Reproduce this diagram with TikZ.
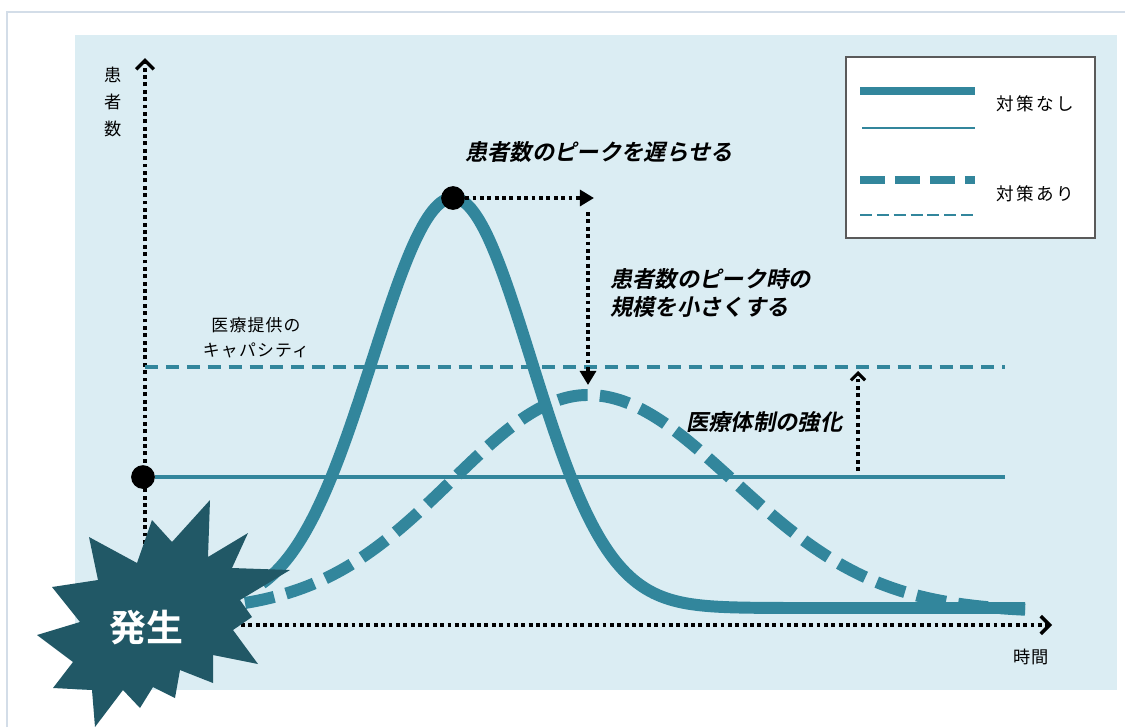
\documentclass[tikz,border=0pt]{standalone}
\usepackage{fontspec}
\newfontfamily\jp{Noto Sans CJK JP}
\newfontfamily\jpls[LetterSpace=14]{Noto Sans CJK JP}
\newfontfamily\jpcap[LetterSpace=7]{Noto Sans CJK JP}
\newfontfamily\jpb{Noto Sans CJK JP Bold}
\newfontfamily\jpbi[FakeSlant=0.2]{Noto Sans CJK JP Bold}
\usetikzlibrary{arrows.meta,positioning}

\definecolor{curvecol}{HTML}{32869C}
\definecolor{bgcol}{HTML}{DBEDF3}
\definecolor{burstcol}{HTML}{215866}
\definecolor{framecol}{HTML}{D3DDE8}
\definecolor{boxcol}{HTML}{5A5A5A}

\begin{document}
\begin{tikzpicture}[x=0.02cm,y=-0.02cm,
    axisline/.style={line width=2.2pt,dash pattern=on 2.2pt off 2pt,-{Straight Barb[length=5pt,width=10pt,line width=2pt]}},
    guide/.style={line width=2.2pt,dash pattern=on 2.2pt off 2pt,-{Triangle[length=8pt,width=9pt]}},
    guideup/.style={line width=2.2pt,dash pattern=on 2.2pt off 2pt,-{Straight Barb[length=4pt,width=8pt,line width=1.8pt]}},
    dot/.style={circle,fill=black,inner sep=0pt,minimum size=13.5pt},
    capline/.style={curvecol,line width=2.3pt,dash pattern=on 7.4pt off 4.5pt},
    baseline/.style={curvecol,line width=2.3pt},
    nocurve/.style={curvecol,line width=6.8pt},
    yescurve/.style={curvecol,line width=6.8pt,dash pattern=on 17pt off 7pt},
    note/.style={font=\jpbi\fontsize{12.7}{16}\selectfont,align=left,inner sep=0pt},
    plain/.style={font=\jp\fontsize{9.6}{14}\selectfont,align=center,inner sep=0pt}]
  \useasboundingbox (0,0) rectangle (1125,727);
  % frame and panel
  \draw[framecol,line width=0.8pt] (7,727) -- (7,12) -- (1125,12);
  \fill[bgcol] (75,35) rectangle (1117,690);

  % axes
  \coordinate (O) at (145,625);
  \coordinate (ytop) at (145,58);
  \coordinate (xend) at (1052,625);
  \draw[axisline] (O) -- (ytop);
  \draw[axisline] (O) -- (xend);
  \node[plain,font=\jp\fontsize{9.8}{15.3}\selectfont] (ylab) at (113,102) {患\\者\\数};
  \node[plain,font=\jp\fontsize{9.8}{14}\selectfont] (xlab) at (1031,657) {時間};

  % capacity lines
  \node[dot] (now) at (143,477) {};
  \coordinate (nowend) at (1005,477);
  \coordinate (capstart) at (145,367);
  \coordinate (capend) at (1005,367);
  \draw[baseline] (now) -- (nowend);
  \draw[capline] (capstart) -- (capend);
  \node[plain,font=\jpcap\fontsize{9.6}{14.2}\selectfont] (caplab) at (256,338) {医療提供の\\キャパシティ};

  % curves
  \draw[yescurve] plot[domain=245:1025,samples=160,smooth]
    (\x,{612-217*exp(-(((\x-588)/((\x<588)?136:145))^2)/2)});
  \draw[nocurve] plot[domain=262:1025,samples=180,smooth]
    (\x,{608-410*exp(-(((\x-453)/((\x<453)?80.5:78))^2)/2)});

  % peak shift
  \node[dot] (peak) at (453,198) {};
  \coordinate (delay) at (594,198);
  \coordinate (dropstart) at (588,212);
  \coordinate (lowpeak) at (588,385);
  \draw[guide] (peak) -- (delay);
  \draw[guide] (dropstart) -- (lowpeak);
  \coordinate (raisestart) at (858,471);
  \coordinate (raiseend) at (858,371);
  \draw[guideup] (raisestart) -- (raiseend);

  \node[note,anchor=west] (delaylab) at (465,152) {患者数のピークを遅らせる};
  \node[note,anchor=west] (shrinklab) at (610,293) {患者数のピーク時の\\規模を小さくする};
  \node[note,anchor=west] (carelab) at (686,422) {医療体制の強化};

  % legend
  \node[draw=boxcol,fill=white,line width=1pt,minimum width=249*0.02cm,minimum height=181*0.02cm,inner sep=0pt] (legend) at (970.5,147.5) {};
  \draw[curvecol,line width=4.5pt] (860,91) -- (975,91);
  \draw[curvecol,line width=1.7pt] (862,128) -- (975,128);
  \draw[curvecol,line width=4.5pt,dash pattern=on 14.2pt off 5.7pt] (860,180) -- (975,180);
  \draw[curvecol,line width=1.7pt,dash pattern=on 6.8pt off 2.8pt] (860,215) -- (975,215);
  \node[plain,font=\jpls\fontsize{10}{12}\selectfont,anchor=west] (nolab) at (996,104) {対策なし};
  \node[plain,font=\jpls\fontsize{10}{12}\selectfont,anchor=west] (yeslab) at (996,194) {対策あり};

  % outbreak burst
  \fill[burstcol] (210,500) -- (208,557) -- (248,533) -- (232,568) -- (290,570)
    -- (240,600) -- (252,617) -- (233,630) -- (258,664) -- (213,655)
    -- (213,683) -- (180,670) -- (175,698) -- (153,687) -- (140,708)
    -- (123,690) -- (95,727) -- (92,690) -- (53,688) -- (73,662)
    -- (37,635) -- (80,622) -- (52,587) -- (98,580) -- (89,537)
    -- (137,563) -- (152,520) -- (172,542) -- cycle;
  \node[font=\jpb\fontsize{21}{24}\selectfont,text=white,inner sep=0pt] (onset) at (146,628) {発生};
\end{tikzpicture}
\end{document}
